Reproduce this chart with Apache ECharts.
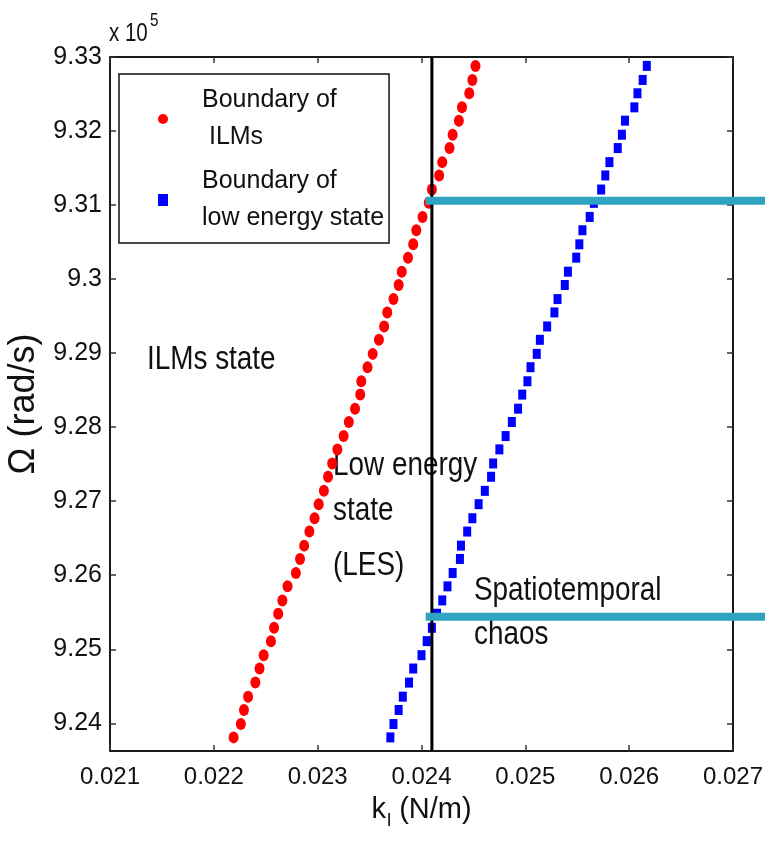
<!DOCTYPE html>
<html>
<head>
<meta charset="utf-8">
<script src="https://cdn.jsdelivr.net/npm/echarts@6.0.0/dist/echarts.min.js"></script>
<style>
  html, body { margin: 0; padding: 0; background: #fff; }
  #chart { width: 765px; height: 847px; }
</style>
</head>
<body>
<div id="chart"></div>
<script>
  // Omega in units of 1e5 rad/s, shared by both boundaries (bottom to top)
  const omega = [
    9.2381, 9.2399, 9.2418, 9.2436, 9.2455, 9.2474, 9.2492, 9.2511, 9.2529, 9.2548,
    9.2566, 9.2585, 9.2603, 9.2622, 9.2640, 9.2659, 9.2677, 9.2696, 9.2714, 9.2733,
    9.2751, 9.2770, 9.2788, 9.2807, 9.2825, 9.2844, 9.2862, 9.2881, 9.2899, 9.2918,
    9.2936, 9.2955, 9.2973, 9.2992, 9.3010, 9.3029, 9.3047, 9.3066, 9.3084, 9.3103,
    9.3121, 9.3140, 9.3158, 9.3177, 9.3195, 9.3214, 9.3232, 9.3251, 9.3269, 9.3288
  ]
  // boundary of ILMs (red dots)
  const klIlms = [
    0.02219, 0.02226, 0.02229, 0.02233, 0.02240, 0.02244, 0.02248, 0.02255, 0.02258, 0.02262,
    0.02266, 0.02271, 0.02279, 0.02283, 0.02287, 0.02292, 0.02297, 0.02301, 0.02306, 0.02310,
    0.02314, 0.02319, 0.02325, 0.02330, 0.02336, 0.02341, 0.02342, 0.02348, 0.02353, 0.02359,
    0.02364, 0.02367, 0.02373, 0.02378, 0.02381, 0.02387, 0.02392, 0.02395, 0.02401, 0.02407,
    0.02410, 0.02417, 0.02420, 0.02427, 0.02430, 0.02436, 0.02439, 0.02446, 0.02449, 0.02452
  ]
  // boundary of low energy state (blue squares)
  const klLes = [
    0.02370, 0.02373, 0.02378, 0.02382, 0.02388, 0.02392, 0.02400, 0.02405, 0.02410, 0.02415,
    0.02420, 0.02425, 0.02430, 0.02437, 0.02438, 0.02444, 0.02449, 0.02455, 0.02461, 0.02467,
    0.02469, 0.02475, 0.02481, 0.02487, 0.02493, 0.02497, 0.02502, 0.02505, 0.02511, 0.02514,
    0.02521, 0.02528, 0.02531, 0.02538, 0.02541, 0.02549, 0.02552, 0.02555, 0.02562, 0.02566,
    0.02573, 0.02577, 0.02581, 0.02589, 0.02593, 0.02596, 0.02605, 0.02608, 0.02613, 0.02617
  ]
  const xTicks = [0.021, 0.022, 0.023, 0.024, 0.025, 0.026, 0.027]
  const yTicks = [9.24, 9.25, 9.26, 9.27, 9.28, 9.29, 9.30, 9.31, 9.32, 9.33]
  const lesLimit = 0.0241               // black vertical line
  const chaosLevels = [9.3106, 9.2544]  // cyan lines
  const chaosSpan = [0.02404, 0.02731]  // runs out past the right border

  const font = '"Liberation Sans", Arial, sans-serif'
  const yMin = 9.23626, yMax = 9.33

  const chart = echarts.init(document.getElementById('chart'))

  const axisLine = {show: true, lineStyle: {color: '#1a1a1a', width: 2}}
  const tick = (vals) => ({show: true, inside: true, length: 6, customValues: vals, lineStyle: {color: '#333', width: 1.5}})

  // condensed look for the in-plot notes
  const note = (text, left, top) => ({
    type: 'text', left: left, top: top, scaleX: 0.82,
    style: {text: text, font: '34px ' + font, fill: '#111'}
  })

  chart.setOption({
    animation: false,
    backgroundColor: '#fff',
    grid: {left: 110, right: 32, top: 57, bottom: 96, outerBoundsMode: 'none', containLabel: false},
    legend: {
      data: ['Boundary of\n ILMs', 'Boundary of\nlow energy state'],
      orient: 'vertical',
      left: 119,
      top: 74,
      padding: [8, 5, 6, 39],
      itemGap: 7,
      itemWidth: 10,
      itemHeight: 12,
      borderColor: '#111',
      borderWidth: 1.5,
      backgroundColor: '#fff',
      selectedMode: false,
      textStyle: {fontFamily: font, fontSize: 25, lineHeight: 37, color: '#111', padding: [0, 0, 0, 29]}
    },
    xAxis: [{
      type: 'value', min: 0.021, max: 0.027, position: 'bottom',
      name: '{k|k}{s|l}{k| (N/m)}', nameLocation: 'middle', nameGap: 38,
      nameTextStyle: {
        fontFamily: font, fontSize: 28, color: '#111',
        rich: {k: {fontFamily: font, fontSize: 29, color: '#111'},
               s: {fontFamily: font, fontSize: 19, color: '#111', padding: [22, 0, 0, 1]}}
      },
      axisLine: axisLine, axisTick: tick(xTicks), splitLine: {show: false},
      axisLabel: {customValues: xTicks, margin: 14, fontFamily: font, fontSize: 24, color: '#111',
        formatter: v => v.toFixed(3)}
    }, {
      type: 'value', min: 0.021, max: 0.027, position: 'top',
      axisLine: axisLine, axisTick: tick(xTicks), axisLabel: {show: false}, splitLine: {show: false}
    }],
    yAxis: [{
      type: 'value', min: yMin, max: yMax, position: 'left',
      name: 'Ω (rad/s)', nameLocation: 'middle', nameGap: 68, nameRotate: 90,
      nameTextStyle: {fontFamily: font, fontSize: 36, color: '#111'},
      axisLine: axisLine, axisTick: tick(yTicks), splitLine: {show: false},
      axisLabel: {customValues: yTicks, margin: 8, fontFamily: font, fontSize: 25, color: '#111',
        formatter: v => (v.toFixed(2) === '9.30' ? '9.3' : v.toFixed(2))}
    }, {
      type: 'value', min: yMin, max: yMax, position: 'right',
      axisLine: axisLine, axisTick: tick(yTicks), axisLabel: {show: false}, splitLine: {show: false}
    }],
    series: [{
      name: 'Boundary of\n ILMs',
      type: 'scatter',
      data: omega.map((w, i) => [klIlms[i], w]),
      symbol: 'circle',
      symbolSize: [10, 12],
      itemStyle: {color: '#ff0000', opacity: 1},
      z: 3
    }, {
      name: 'Boundary of\nlow energy state',
      type: 'scatter',
      data: omega.map((w, i) => [klLes[i], w]),
      symbol: 'rect',
      symbolSize: [8, 10],
      itemStyle: {color: '#0000ff', opacity: 1},
      z: 3
    }, {
      type: 'line',
      data: [[lesLimit, yMin], [lesLimit, yMax]],
      symbol: 'none',
      silent: true,
      z: 4,
      lineStyle: {color: '#000', width: 3}
    }]
  })

  // cyan lines leave the plot on the right, so place them through the axes' scales
  const toPx = p => chart.convertToPixel({xAxisIndex: 0, yAxisIndex: 0}, p)
  const cyanLines = chaosLevels.map(lv => {
    const a = toPx([chaosSpan[0], lv])
    const b = toPx([chaosSpan[1], lv])
    return {
      type: 'line', z: 50, silent: true,
      shape: {x1: a[0], y1: a[1], x2: b[0], y2: b[1]},
      style: {stroke: '#2fa3bf', lineWidth: 8}
    }
  })

  chart.setOption({
    graphic: [
      {type: 'text', left: 109, top: 22, scaleX: 0.82, style: {text: 'x 10', font: '25px ' + font, fill: '#111'}},
      {type: 'text', left: 150, top: 12, scaleX: 0.85, style: {text: '5', font: '18px ' + font, fill: '#111'}},
      note('ILMs state', 147, 343),
      note('Low energy', 333, 449),
      note('state', 333, 494),
      note('(LES)', 333, 549),
      note('Spatiotemporal', 474, 574),
      note('chaos', 474, 618)
    ].concat(cyanLines)
  })
</script>
</body>
</html>
